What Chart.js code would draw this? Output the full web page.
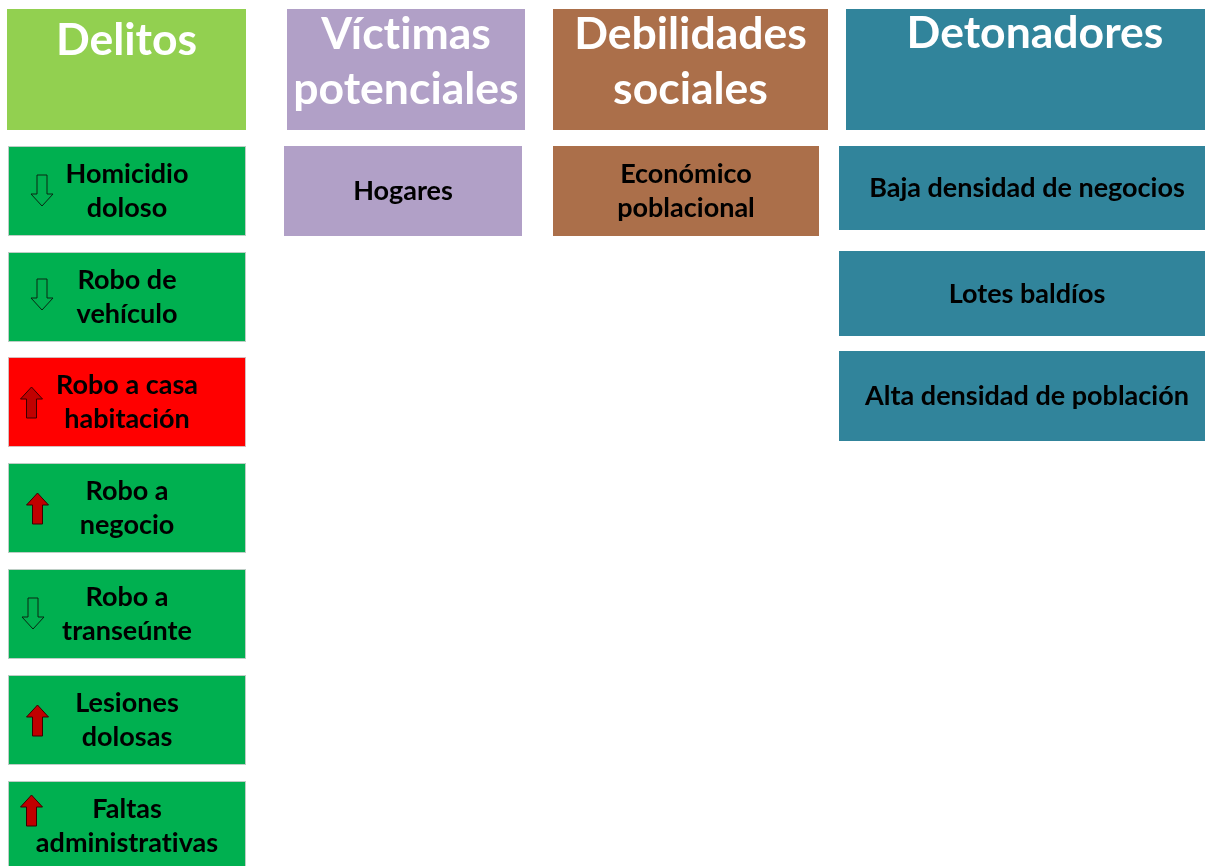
<!DOCTYPE html>
<html lang="es">
<head>
<meta charset="utf-8" />
<title>Delitos, víctimas, debilidades y detonadores</title>
<script src="https://cdn.jsdelivr.net/npm/chart.js@4.4.1/dist/chart.umd.min.js"></script>
<style>
  html,body{margin:0;padding:0;background:#fff;overflow:hidden;}
  #wrap{width:1205px;height:866px;position:relative;}
</style>
</head>
<body>
<div id="wrap"><canvas id="c" width="1205" height="866"></canvas></div>
<script>
// --- datos del diagrama ---
const encabezados = [['Delitos'], ['Víctimas', 'potenciales'], ['Debilidades', 'sociales'], ['Detonadores']];
const delitos = [['Homicidio', 'doloso'], ['Robo de', 'vehículo'], ['Robo a casa', 'habitación'], ['Robo a', 'negocio'], ['Robo a', 'transeúnte'], ['Lesiones', 'dolosas'], ['Faltas', 'administrativas']];
const tendencias = ['baja', 'baja', 'sube', 'sube', 'baja', 'sube', 'sube'];
const delitoPrioritario = 2; // robo a casa habitación
const victimas = [['Hogares']];
const debilidades = [['Económico', 'poblacional']];
const detonadores = [['Baja densidad de negocios'], ['Lotes baldíos'], ['Alta densidad de población']];

// --- maquetación (unidades de la escala = px de la imagen original) ---
const COLS = [
  { head: [7, 246], body: [8, 246], fill: '#92D050', bodyFill: '#00B050', headBase: [55] },
  { head: [287, 525], body: [284, 522], fill: '#B1A0C7', bodyFill: '#B1A0C7', headBase: [49, 104] },
  { head: [553, 828], body: [553, 819], fill: '#AB6F4A', bodyFill: '#AB6F4A', headBase: [49, 104] },
  { head: [846, 1224], body: [839, 1215], fill: '#31849B', bodyFill: '#31849B', headBase: [48] },
];
const HEAD_Y = [9, 130];
const DELITO_TOPS = [146, 252, 357, 463, 569, 675, 781];
const DELITO_H = 90;
const DETON_BOX = [[146, 230], [251, 336], [351, 441]];
const ARROW = [[42, 175], [42, 279], [31.5, 387], [37.5, 493], [33, 598], [37.5, 705], [31.5, 795]];

const boxes = [];
encabezados.forEach((lines, i) => boxes.push({ x: COLS[i].head, y: HEAD_Y, fill: COLS[i].fill, lines, head: true, base: COLS[i].headBase }));
delitos.forEach((lines, i) => boxes.push({
  x: COLS[0].body, y: [DELITO_TOPS[i], DELITO_TOPS[i] + DELITO_H], fill: i === delitoPrioritario ? '#FF0000' : COLS[0].bodyFill,
  lines, border: true, trend: tendencias[i], arrow: ARROW[i]
}));
victimas.forEach(lines => boxes.push({ x: COLS[1].body, y: [146, 236], fill: COLS[1].bodyFill, lines }));
debilidades.forEach(lines => boxes.push({ x: COLS[2].body, y: [146, 236], fill: COLS[2].bodyFill, lines }));
detonadores.forEach((lines, i) => boxes.push({ x: COLS[3].body, y: DETON_BOX[i], fill: COLS[3].bodyFill, lines }));

// evita la ligadura "ti" de Lato
const noLig = t => t.replace(/t(?=i)/g, 't\u200C');

function drawArrow(ctx, xs, ys, cx, top, dir, color) {
  const w = 22, h = 31, shaft = 10, headH = 12;
  const X = v => xs.getPixelForValue(v), Y = v => ys.getPixelForValue(v);
  const l = cx - w / 2, r = cx + w / 2, sl = cx - shaft / 2, sr = cx + shaft / 2;
  ctx.beginPath();
  if (dir === 'baja') {
    ctx.moveTo(X(sl), Y(top)); ctx.lineTo(X(sr), Y(top)); ctx.lineTo(X(sr), Y(top + h - headH));
    ctx.lineTo(X(r), Y(top + h - headH)); ctx.lineTo(X(cx), Y(top + h)); ctx.lineTo(X(l), Y(top + h - headH));
    ctx.lineTo(X(sl), Y(top + h - headH)); ctx.closePath();
    ctx.strokeStyle = '#0a2612'; ctx.lineWidth = 1; ctx.stroke();
  } else {
    ctx.moveTo(X(cx), Y(top)); ctx.lineTo(X(r), Y(top + headH)); ctx.lineTo(X(sr), Y(top + headH));
    ctx.lineTo(X(sr), Y(top + h)); ctx.lineTo(X(sl), Y(top + h)); ctx.lineTo(X(sl), Y(top + headH));
    ctx.lineTo(X(l), Y(top + headH)); ctx.closePath();
    ctx.fillStyle = color; ctx.fill();
    ctx.strokeStyle = '#3a0000'; ctx.lineWidth = 1; ctx.stroke();
  }
}

const diagramPlugin = {
  id: 'diagram',
  afterDatasetsDraw(chart) {
    const { ctx, scales: { x: xs, y: ys } } = chart;
    ctx.save();
    boxes.forEach(b => {
      const x0 = xs.getPixelForValue(b.x[0]), x1 = xs.getPixelForValue(b.x[1]);
      const y0 = ys.getPixelForValue(b.y[0]), y1 = ys.getPixelForValue(b.y[1]);
      ctx.fillStyle = b.fill;
      ctx.fillRect(x0, y0, x1 - x0, y1 - y0);
      if (b.border) {
        ctx.strokeStyle = 'rgba(210,210,210,0.9)'; ctx.lineWidth = 1;
        ctx.strokeRect(x0 + 0.5, y0 + 0.5, x1 - x0 - 1, y1 - y0 - 1);
      }
      const cx = (x0 + x1) / 2;
      ctx.textAlign = 'center'; ctx.textBaseline = 'alphabetic';
      if (b.head) {
        ctx.fillStyle = '#ffffff';
        ctx.font = 'bold 44.5px Lato, "Open Sans", sans-serif';
        b.lines.forEach((t, k) => ctx.fillText(noLig(t), cx, ys.getPixelForValue(b.base[k])));
      } else {
        ctx.fillStyle = '#000000';
        ctx.font = 'bold 27px Lato, "Open Sans", sans-serif';
        if (b.lines.length === 1) {
          ctx.fillText(noLig(b.lines[0]), cx, ys.getPixelForValue((b.y[0] + b.y[1]) / 2 + 9));
        } else {
          b.lines.forEach((t, k) => ctx.fillText(noLig(t), cx, ys.getPixelForValue(b.y[0] + 37 + k * 34)));
        }
      }
      if (b.trend) drawArrow(ctx, xs, ys, b.arrow[0], b.arrow[1], b.trend, '#C00000');
    });
    ctx.restore();
  }
};

new Chart(document.getElementById('c'), {
  type: 'scatter',
  data: { datasets: [{ data: [], pointRadius: 0 }] },
  options: {
    responsive: false,
    animation: false,
    events: [],
    layout: { padding: 0 },
    plugins: { legend: { display: false }, tooltip: { enabled: false }, title: { display: false } },
    scales: {
      x: { type: 'linear', min: 0, max: 1205, display: false },
      y: { type: 'linear', min: 0, max: 866, reverse: true, display: false }
    }
  },
  plugins: [diagramPlugin]
});
</script>
</body>
</html>
